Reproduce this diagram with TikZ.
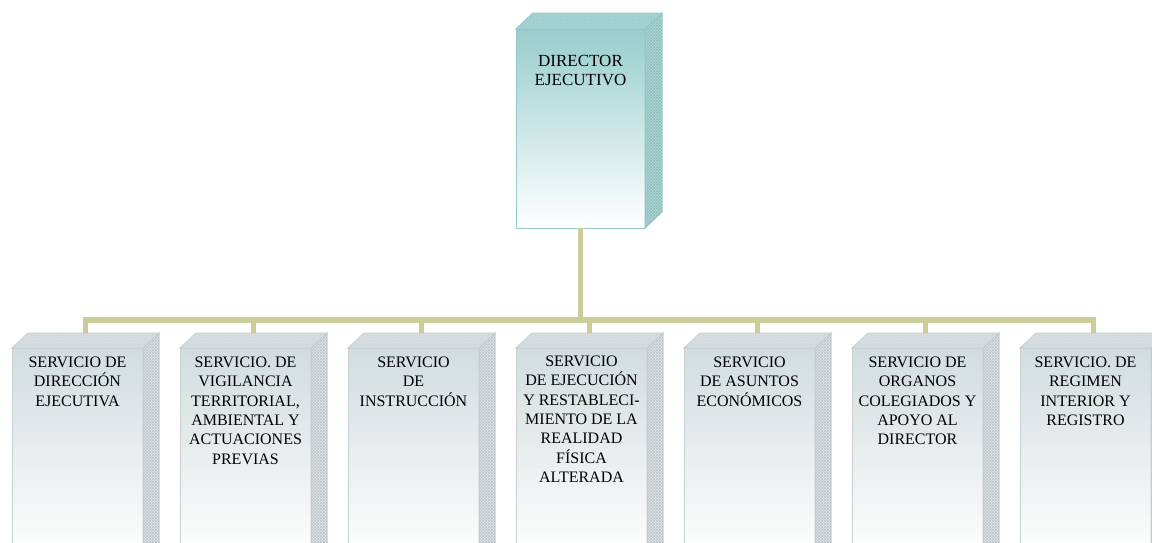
\documentclass[tikz,border=0pt]{standalone}
\usepackage{fontspec}
\setmainfont{Liberation Serif}
\usetikzlibrary{calc,patterns}
\definecolor{connc}{HTML}{CCCC99}
\definecolor{dirtop}{HTML}{98CDCD}
\definecolor{diredge}{HTML}{92C9C9}
\definecolor{dirlid}{HTML}{A6D5D5}
\definecolor{dirside}{HTML}{B0D8D8}
\definecolor{dirhatch}{HTML}{92BEBE}
\definecolor{srvtop}{HTML}{D2DCDE}
\definecolor{srvedge}{HTML}{C6CFD1}
\definecolor{srvlid}{HTML}{D8E0E2}
\definecolor{srvside}{HTML}{DFE5E6}
\definecolor{srvhatch}{HTML}{C0C7C9}
\tikzset{
  conn/.style={draw=connc, line width=5.5pt},
  dirbox/.style={draw=diredge, line width=1pt, top color=dirtop, bottom color=white,
    anchor=north west, inner sep=0pt, outer sep=0pt, font=\fontsize{17}{19.3}\selectfont},
  srvbox/.style={draw=srvedge, line width=1pt, top color=srvtop, bottom color=white,
    anchor=north west, inner sep=0pt, outer sep=0pt, font=\fontsize{16}{19.3}\selectfont},
  dirlidf/.style={draw=diredge, line width=1pt, fill=dirlid,
    postaction={pattern=crosshatch, pattern color=dirhatch!30!dirlid}},
  dirsidef/.style={draw=diredge, line width=1pt, fill=dirside,
    postaction={pattern=crosshatch, pattern color=dirhatch}},
  srvlidf/.style={draw=srvedge, line width=1pt, fill=srvlid,
    postaction={pattern=crosshatch, pattern color=srvhatch!30!srvlid}},
  srvsidef/.style={draw=srvedge, line width=1pt, fill=srvside,
    postaction={pattern=crosshatch, pattern color=srvhatch}},
}
% width, height, top gap, lines
\newcommand\orgtext[4]{\parbox[t][#2][t]{#1}{\centering\vspace*{#3}#4\par}}
% node, dx, dy, style prefix
\newcommand\orgsolid[4]{%
  \path[#4lidf] (#1.north west) -- ++(#2,#3) -- ($(#1.north east)+(#2,#3)$) -- (#1.north east) -- cycle;
  \path[#4sidef] (#1.north east) -- ++(#2,#3) -- ($(#1.south east)+(#2,#3)$) -- (#1.south east) -- cycle;
}
\begin{document}
\begin{tikzpicture}[x=1pt,y=1pt]
\useasboundingbox (0,0) rectangle (1152,-542);
\clip (0,0) rectangle (1152,-542);

% director
\node[dirbox] (dir) at (516,-29) {\orgtext{129pt}{199pt}{26pt}{DIRECTOR\\EJECUTIVO}};
\orgsolid{dir}{17}{16}{dir}

% services
\node[srvbox] (s1) at (12,-348) {\orgtext{131pt}{215pt}{9pt}{SERVICIO DE\\DIRECCIÓN\\EJECUTIVA}};
\node[srvbox] (s2) at (180,-348) {\orgtext{131pt}{215pt}{9pt}{SERVICIO. DE\\VIGILANCIA\\TERRITORIAL,\\AMBIENTAL Y\\ACTUACIONES\\PREVIAS}};
\node[srvbox] (s3) at (348,-348) {\orgtext{131pt}{215pt}{9pt}{SERVICIO\\DE\\INSTRUCCIÓN}};
\node[srvbox] (s4) at (516,-348) {\orgtext{131pt}{215pt}{8pt}{SERVICIO\\DE EJECUCIÓN\\Y RESTABLECI-\\MIENTO DE LA\\REALIDAD\\FÍSICA\\ALTERADA}};
\node[srvbox] (s5) at (684,-348) {\orgtext{131pt}{215pt}{9pt}{SERVICIO\\DE ASUNTOS\\ECONÓMICOS}};
\node[srvbox] (s6) at (852,-348) {\orgtext{131pt}{215pt}{9pt}{SERVICIO DE\\ORGANOS\\COLEGIADOS Y\\APOYO AL\\DIRECTOR}};
\node[srvbox] (s7) at (1020,-348) {\orgtext{131pt}{215pt}{9pt}{SERVICIO. DE\\REGIMEN\\INTERIOR Y\\REGISTRO}};
\foreach \i in {1,...,7}{
  \orgsolid{s\i}{16}{15}{srv}
  \coordinate (c\i) at ($(s\i.north)+(8,15)$);
}

% connectors
\coordinate (bus) at (0,-320);
\draw[conn] (dir.south) -- (dir.south |- bus);
\draw[conn] (c1) |- (c7 |- bus) -- (c7);
\foreach \i in {2,...,6}{
  \draw[conn] (c\i |- bus) -- (c\i);
}
\end{tikzpicture}
\end{document}
